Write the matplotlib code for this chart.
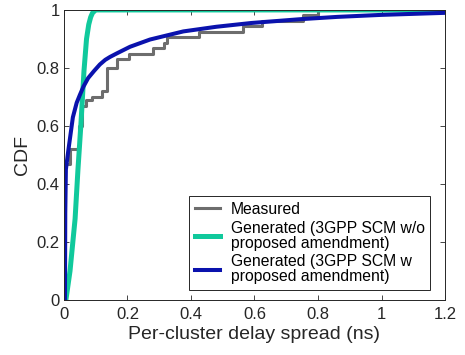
import matplotlib
matplotlib.use('Agg')
import matplotlib.pyplot as plt

plt.rcParams['font.family'] = ['Liberation Sans', 'DejaVu Sans']

# measured CDF (steps)
meas_x = [0.0, 0.004, 0.019, 0.048, 0.058, 0.068, 0.088, 0.12, 0.135, 0.166, 0.205,
          0.28, 0.315, 0.326, 0.425, 0.564, 0.623, 0.753, 0.80, 1.2]
meas_y = [0.0, 0.47, 0.52, 0.60, 0.67, 0.69, 0.70, 0.72, 0.80, 0.83, 0.847,
          0.869, 0.887, 0.907, 0.924, 0.943, 0.962, 0.983, 1.0, 1.0]

# generated, 3GPP SCM without amendment
gen1_x = [0.006, 0.019, 0.035, 0.044, 0.053, 0.063, 0.071, 0.078, 0.084, 0.09, 0.1, 1.2]
gen1_y = [0.0, 0.10, 0.28, 0.45, 0.60, 0.79, 0.90, 0.95, 0.975, 0.99, 1.0, 1.0]

# generated, 3GPP SCM with amendment
gen2_x = [0.003, 0.004, 0.006, 0.013, 0.028, 0.04, 0.05, 0.061, 0.076, 0.095, 0.113,
          0.13, 0.145, 0.166, 0.208, 0.271, 0.376, 0.48, 0.59, 0.743, 0.86, 1.0, 1.2]
gen2_y = [0.0, 0.30, 0.45, 0.51, 0.63, 0.68, 0.707, 0.735, 0.765, 0.79, 0.812,
          0.828, 0.838, 0.85, 0.873, 0.898, 0.926, 0.942, 0.955, 0.968, 0.976, 0.983, 0.99]

labels = ['Measured',
          'Generated (3GPP SCM w/o\nproposed amendment)',
          'Generated (3GPP SCM w\nproposed amendment)']

fig = plt.figure(figsize=(4.65, 3.55), dpi=100)
ax = fig.add_axes([0.1376, 0.155, 0.8194, 0.817])

ax.step(meas_x, meas_y, where='post', color='#6d6d6d', lw=2.2, label=labels[0])
ax.plot(gen1_x, gen1_y, color='#10c99c', lw=3.6, label=labels[1])
ax.plot(gen2_x, gen2_y, color='#0a12ad', lw=2.9, label=labels[2])

ax.set_xlim(0, 1.2)
ax.set_ylim(0, 1)
ax.set_xticks([0, 0.2, 0.4, 0.6, 0.8, 1.0, 1.2])
ax.set_xticklabels(['0', '0.2', '0.4', '0.6', '0.8', '1', '1.2'])
ax.set_yticks([0, 0.2, 0.4, 0.6, 0.8, 1.0])
ax.set_yticklabels(['0', '0.2', '0.4', '0.6', '0.8', '1'])
ax.tick_params(direction='in', top=True, right=True, length=3.5, width=0.6,
               labelsize=12, colors='#262626')
ax.tick_params(axis='x', pad=5)
ax.tick_params(axis='y', pad=3)
for s in ax.spines.values():
    s.set_linewidth(0.7)
    s.set_color('#262626')

ax.set_xlabel('Per-cluster delay spread (ns)', fontsize=14, color='#262626', labelpad=3)
ax.set_ylabel('CDF', fontsize=14, color='#262626', labelpad=4)

leg = ax.legend(loc='lower right', bbox_to_anchor=(0.961, 0.0345), borderaxespad=0,
                fontsize=11.3, handlelength=1.65, handletextpad=0.65, labelspacing=0.25,
                borderpad=0.35, fancybox=False, framealpha=1, edgecolor='#262626')
leg.get_frame().set_linewidth(0.7)
for t in leg.get_texts():
    t.set_linespacing(1.0)

fig.savefig('out.png', dpi=100)
